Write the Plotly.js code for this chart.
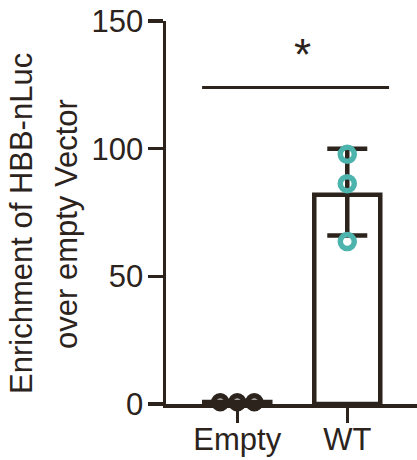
<!DOCTYPE html>
<html>
<head>
<meta charset="utf-8">
<script src="https://cdn.plot.ly/plotly-3.0.1.min.js"></script>
<style>html,body{margin:0;padding:0;background:#fff;}#chart{width:417px;height:460px;}</style>
</head>
<body>
<div id="chart"></div>
<script>
// ---- data ----
const categories = ["Empty", "WT"];
const barMeans = [0.8, 82];
const errPlus = [0, 18];
const errMinus = [0, 16];
const emptyPoints = [0.7, 0.7, 0.7];
const emptyJitter = [-0.155, 0, 0.155];
const wtPoints = [97.8, 86.3, 63.6];
const wtJitter = [0, 0, 0];
const sigX = [-0.32, 1.38];
const sigY = 124;
const sigLabel = "*";
const sigLabelX = 0.59;
const sigLabelY = 137;
const yTicks = [0, 50, 100, 150];
const yTitleLines = ["Enrichment of HBB-nLuc", "over empty Vector"];

const dark = "#2b231c";
const teal = "#4db3ad";
const font = "Liberation Sans, Arial, sans-serif";
const idx = categories.map((c, i) => i);

const traces = [
  {
    type: "bar",
    x: idx,
    y: barMeans,
    width: 0.6,
    marker: { color: "#ffffff", line: { color: dark, width: 4.5 } },
    error_y: { type: "data", symmetric: false, array: errPlus, arrayminus: errMinus,
               color: dark, thickness: 4.5, width: 20 },
    hoverinfo: "skip"
  },
  {
    type: "scatter", mode: "lines",
    x: sigX, y: [sigY, sigY],
    line: { color: dark, width: 3 },
    hoverinfo: "skip"
  },
  {
    type: "scatter", mode: "markers",
    x: emptyPoints.map((v, i) => 0 + emptyJitter[i]),
    y: emptyPoints,
    marker: { symbol: "circle-open", size: 13, color: dark, line: { color: dark, width: 5.5 } },
    cliponaxis: false
  },
  {
    type: "scatter", mode: "markers",
    x: wtPoints.map((v, i) => 1 + wtJitter[i]),
    y: wtPoints,
    marker: { symbol: "circle-open", size: 14, color: teal, line: { color: teal, width: 5.5 } },
    cliponaxis: false
  }
];

const titleAnnots = yTitleLines.map((t, i) => ({
  xref: "paper", yref: "paper", x: 0, y: 0.47,
  xanchor: "center", yanchor: "middle",
  xshift: (i === 0 ? 22 : 67) - 166,
  text: t, textangle: -90, showarrow: false,
  font: { family: font, size: 31, color: dark }
}));

const layout = {
  width: 417, height: 460,
  margin: { l: 166, r: 0, t: 21, b: 56 },
  paper_bgcolor: "#ffffff", plot_bgcolor: "#ffffff",
  showlegend: false,
  font: { family: font, color: dark, size: 31 },
  xaxis: {
    range: [-0.648, 1.634],
    tickmode: "array", tickvals: idx, ticktext: categories,
    showgrid: false, zeroline: false,
    showline: true, linecolor: dark, linewidth: 3.5,
    ticks: "outside", ticklen: 15, tickwidth: 3.5, tickcolor: dark,
    ticklabelstandoff: -10,
    tickfont: { family: font, size: 31, color: dark }
  },
  yaxis: {
    range: [0, 150],
    tickmode: "array", tickvals: yTicks,
    showgrid: false, zeroline: false,
    showline: true, linecolor: dark, linewidth: 3.5,
    ticks: "outside", ticklen: 15, tickwidth: 3.5, tickcolor: dark,
    ticklabelstandoff: -2,
    tickfont: { family: font, size: 31, color: dark }
  },
  annotations: [
    { x: sigLabelX, y: sigLabelY, xref: "x", yref: "y", text: sigLabel, showarrow: false,
      font: { family: font, size: 44, color: dark } }
  ].concat(titleAnnots)
};

Plotly.newPlot("chart", traces, layout, { staticPlot: true, displayModeBar: false });
</script>
</body>
</html>
